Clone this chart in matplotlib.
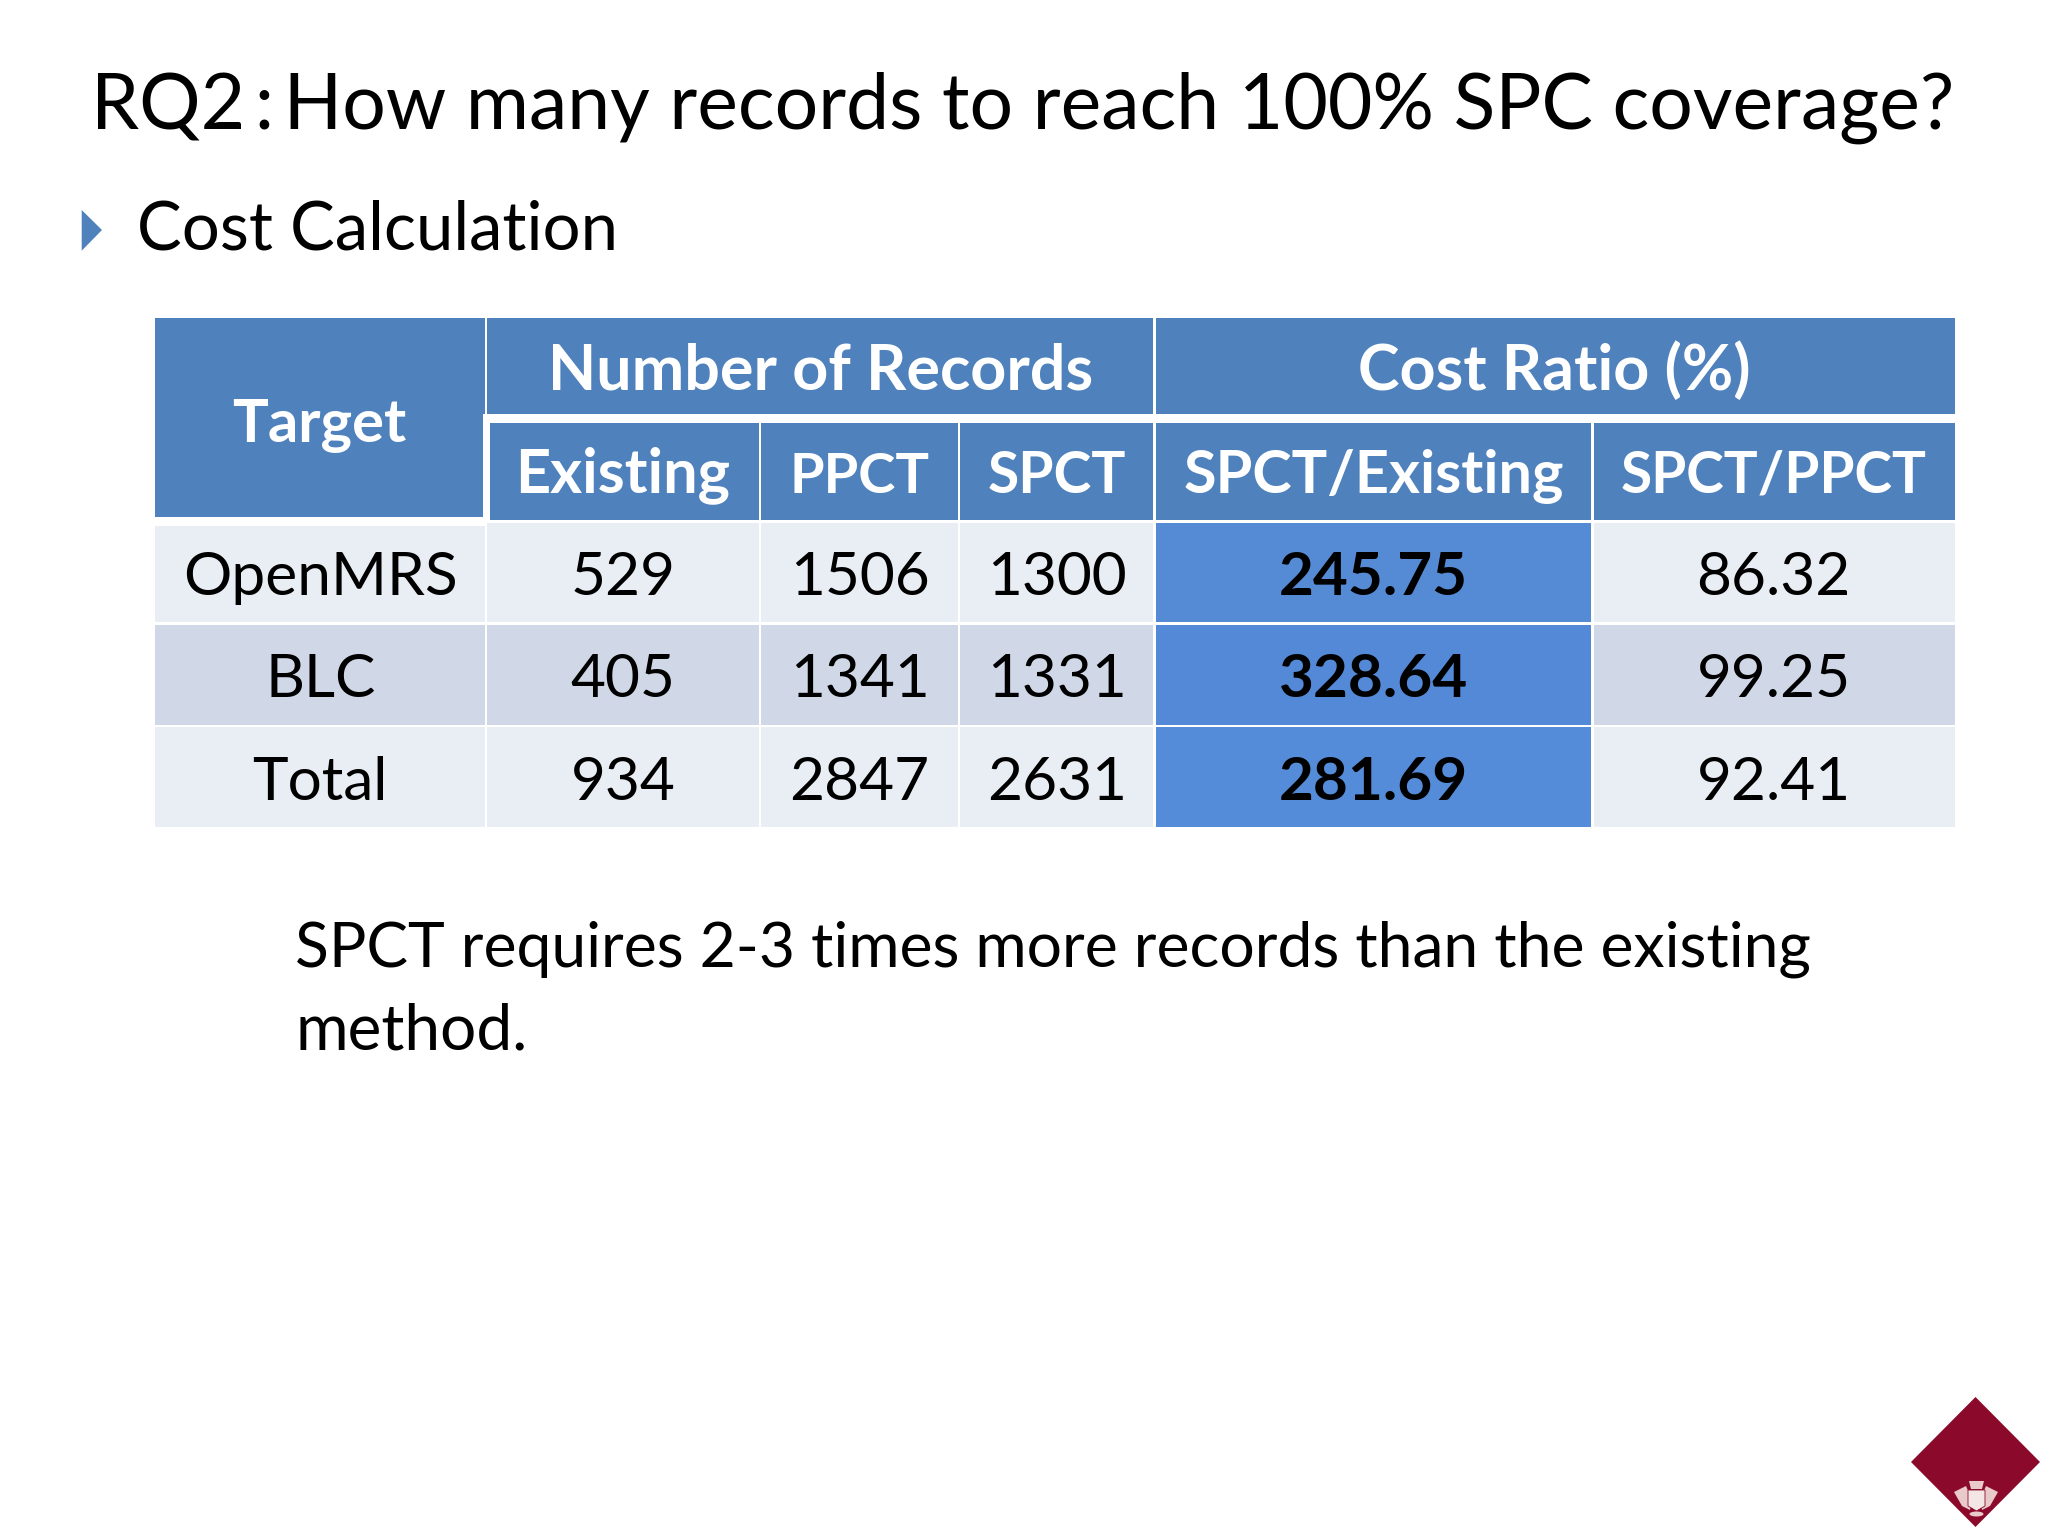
import matplotlib
matplotlib.use("Agg")
import matplotlib.pyplot as plt
from matplotlib.patches import Rectangle, Polygon, Ellipse

plt.rcParams['font.family'] = ['Lato', 'DejaVu Sans']

title = "RQ2\u2009:\u2009How many records to reach 100% SPC coverage?"
bullet = "Cost Calculation"
note = ["SPCT requires 2-3 times more records than the existing", "method."]
corner_header = "Target"
group_headers = ["Number of Records", "Cost Ratio (%)"]
sub_headers = ["Existing", "PPCT", "SPCT", "SPCT/Existing", "SPCT/PPCT"]
sub_header_widths = [215, 140, 138, 380, 306]
targets = ["OpenMRS", "BLC", "Total"]
existing = ["529", "405", "934"]
ppct = ["1506", "1341", "2847"]
spct = ["1300", "1331", "2631"]
spct_existing = ["245.75", "328.64", "281.69"]
spct_ppct = ["86.32", "99.25", "92.41"]

fig = plt.figure(figsize=(20.48, 15.36), dpi=100)
ax = fig.add_axes([0, 0, 1, 1])
ax.set_xlim(0, 2048)
ax.set_ylim(1536, 0)
ax.axis('off')
renderer = fig.canvas.get_renderer()


def fitted_size(text, width, weight='normal'):
    t = ax.text(0, 0, text, fontsize=40, fontweight=weight)
    w = t.get_window_extent(renderer).width
    t.remove()
    return 40 * width / w


xs = [154.7, 486, 760, 959, 1154.5, 1592.5, 1955]
row_ys = [522.7, 623.5, 726, 826.7]
HDR = '#4f81bd'
ROWS = ['#e9edf4', '#d0d8e8', '#e9edf4']
HIS = ['#558bd5', '#5389d6', '#558cd9']
GAP = 1.25


def box(x0, x1, y0, y1, c):
    ax.add_patch(Rectangle((x0, y0), x1 - x0, y1 - y0, facecolor=c, edgecolor='none'))


def put(x, y, s, size, color='black', weight='normal', ha='center'):
    ax.text(x, y, s, fontsize=size, color=color, fontweight=weight, ha=ha, va='baseline')


head_size = fitted_size(group_headers[0], 545, 'bold')
body_size = fitted_size(targets[0], 274)
bold_size = fitted_size(spct_existing[0], 189, 'bold')

# header cells
box(xs[0], 482.5, 317.7, 516.7, HDR)
box(482.5, xs[1] - GAP, 317.7, 414, HDR)
box(xs[1] + GAP, xs[4] - GAP, 317.7, 414, HDR)
box(xs[4] + GAP, xs[6], 317.7, 414, HDR)
box(xs[1] + 4, xs[2] - GAP, 422.7, 520, HDR)
for i in range(2, 6):
    box(xs[i] + GAP, (xs[i + 1] - GAP) if i < 5 else xs[6], 422.7, 520, HDR)

put((xs[0] + xs[1]) / 2 - 1, 441.7, corner_header, fitted_size(corner_header, 174, 'bold'), 'white', 'bold')
put((xs[1] + xs[4]) / 2, 390, group_headers[0], head_size, 'white', 'bold')
put((xs[4] + xs[6]) / 2, 390, group_headers[1], head_size, 'white', 'bold')
for i, h in enumerate(sub_headers):
    put((xs[i + 1] + xs[i + 2]) / 2, 492.7, h, fitted_size(h, sub_header_widths[i], 'bold'), 'white', 'bold')

# body cells
columns = [targets, existing, ppct, spct, spct_existing, spct_ppct]
baselines = [595, 697, 800]
for r in range(3):
    y0 = row_ys[r] + (GAP if r else 0)
    y1 = row_ys[r + 1] - (GAP if r < 2 else 0)
    for c, col in enumerate(columns):
        hi = c == 4
        x0 = xs[c] + (GAP if c else 0)
        x1 = xs[c + 1] - (GAP if c < 5 else 0)
        top = 526 if (r == 0 and c == 0) else y0
        box(x0, x1, top, y1, HIS[r] if hi else ROWS[r])
        put((xs[c] + xs[c + 1]) / 2, baselines[r], col[r],
            bold_size if hi else body_size, 'black', 'bold' if hi else 'normal')

# slide text
put(91, 129, title, fitted_size(title, 1864), ha='left')
ax.add_patch(Polygon([(81.7, 210), (102, 230), (81.7, 250.7)], closed=True, facecolor='#4f81bd', edgecolor='none'))
put(137, 250, bullet, fitted_size(bullet, 481), ha='left')
note_size = fitted_size(note[0], 1514)
put(295, 967, note[0], note_size, ha='left')
put(295, 1049, note[1], fitted_size(note[1], 232), ha='left')

# emblem
ax.add_patch(Polygon([(1975.5, 1397), (2040, 1462), (1975.5, 1527), (1911, 1462)], closed=True,
                     facecolor='#8b0a2b', edgecolor='none'))
CREST = '#e9c9c9'
ax.add_patch(Polygon([(1954, 1492), (1966, 1486), (1972, 1500), (1970, 1510), (1962, 1506)], closed=True,
                     facecolor=CREST, edgecolor='none'))
ax.add_patch(Polygon([(1998, 1492), (1986, 1486), (1980, 1500), (1982, 1510), (1990, 1506)], closed=True,
                     facecolor=CREST, edgecolor='none'))
ax.add_patch(Polygon([(1968, 1490), (1985, 1490), (1985, 1506), (1976.5, 1511), (1968, 1506)], closed=True,
                     facecolor='#f5e6e6', edgecolor='#8b0a2b', linewidth=0.6))
ax.add_patch(Polygon([(1969, 1481), (1984, 1481), (1982, 1489), (1971, 1489)], closed=True,
                     facecolor=CREST, edgecolor='none'))
ax.add_patch(Ellipse((1976.5, 1514), 14, 5, facecolor=CREST, edgecolor='none'))

fig.savefig("out.png", dpi=100, facecolor='white')
